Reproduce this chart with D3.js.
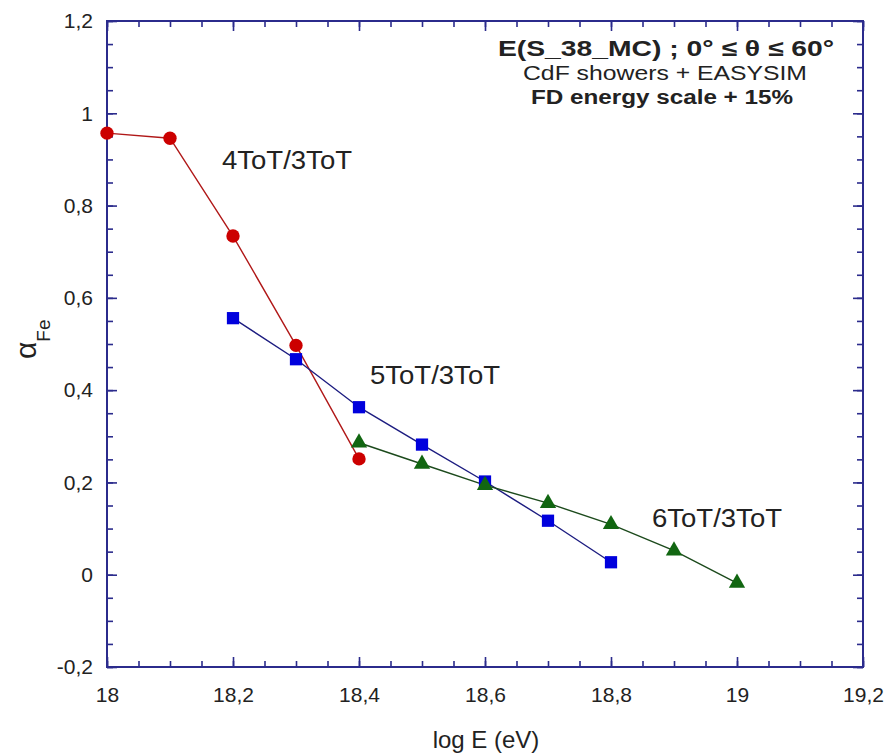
<!DOCTYPE html>
<html>
<head>
<meta charset="utf-8">
<script src="https://cdn.jsdelivr.net/npm/d3@7"></script>
<style>
  html, body { margin: 0; padding: 0; background: #ffffff; }
  svg { display: block; }
  text { font-family: "Liberation Sans", Arial, Helvetica, sans-serif; fill: #222; }
</style>
</head>
<body>
<svg id="chart" width="890" height="756"></svg>
<script>
// ---- data ----
const logE4 = [18.0, 18.1, 18.2, 18.3, 18.4];
const alpha4 = [0.957, 0.946, 0.734, 0.497, 0.251];

const logE5 = [18.2, 18.3, 18.4, 18.5, 18.6, 18.7, 18.8];
const alpha5 = [0.556, 0.467, 0.363, 0.282, 0.202, 0.117, 0.027];

const logE6 = [18.4, 18.5, 18.6, 18.7, 18.8, 18.9, 19.0];
const alpha6 = [0.286, 0.240, 0.194, 0.155, 0.109, 0.052, -0.018];

const seriesNames = ["4ToT/3ToT", "5ToT/3ToT", "6ToT/3ToT"];
const xTickValues = [18, 18.2, 18.4, 18.6, 18.8, 19, 19.2];
const yTickValues = [-0.2, 0, 0.2, 0.4, 0.6, 0.8, 1, 1.2];
const titleLines = ["E(S_38_MC) ; 0° ≤ θ ≤ 60°", "CdF showers + EASYSIM", "FD energy scale + 15%"];
const xTitle = "log E (eV)";

// ---- layout ----
const L = 107, R = 863, T = 21, B = 667;
const svg = d3.select("#chart");
const x = d3.scaleLinear().domain([18, 19.2]).range([L, R]);
const y = d3.scaleLinear().domain([-0.2, 1.2]).range([B, T]);

const loc = d3.formatLocale({decimal: ",", thousands: ".", grouping: [3], currency: ["", ""], minus: "-"});
const fmt = loc.format("~g");

const frameColor = "#2b2b8c";
const xMinor = d3.range(0, 25).map(i => 18 + i * 0.05);
const yMinor = d3.range(0, 29).map(i => -0.2 + i * 0.05);

function styleAxis(g, labels) {
  g.select(".domain").remove();
  g.selectAll(".tick line").attr("stroke", frameColor).attr("stroke-width", 1.6);
  g.selectAll(".tick text").style("font-size", labels ? "21px" : "0px").attr("fill", "#222");
}

// minor ticks
svg.append("g").attr("transform", `translate(0,${B})`)
  .call(d3.axisBottom(x).tickValues(xMinor).tickSize(-6).tickFormat(""))
  .call(g => styleAxis(g, false));
svg.append("g").attr("transform", `translate(0,${T})`)
  .call(d3.axisTop(x).tickValues(xMinor).tickSize(-6).tickFormat(""))
  .call(g => styleAxis(g, false));
svg.append("g").attr("transform", `translate(${L},0)`)
  .call(d3.axisLeft(y).tickValues(yMinor).tickSize(-6).tickFormat(""))
  .call(g => styleAxis(g, false));
svg.append("g").attr("transform", `translate(${R},0)`)
  .call(d3.axisRight(y).tickValues(yMinor).tickSize(-6).tickFormat(""))
  .call(g => styleAxis(g, false));

// major ticks
svg.append("g").attr("transform", `translate(0,${B})`)
  .call(d3.axisBottom(x).tickValues(xTickValues).tickSize(-10).tickPadding(20).tickFormat(fmt))
  .call(g => styleAxis(g, true));
svg.append("g").attr("transform", `translate(0,${T})`)
  .call(d3.axisTop(x).tickValues(xTickValues).tickSize(-10).tickFormat(""))
  .call(g => styleAxis(g, false));
svg.append("g").attr("transform", `translate(${L},0)`)
  .call(d3.axisLeft(y).tickValues(yTickValues).tickSize(-10).tickPadding(14).tickFormat(fmt))
  .call(g => styleAxis(g, true));
svg.append("g").attr("transform", `translate(${R},0)`)
  .call(d3.axisRight(y).tickValues(yTickValues).tickSize(-10).tickFormat(""))
  .call(g => styleAxis(g, false));

// frame
svg.append("rect").attr("x", L).attr("y", T).attr("width", R - L).attr("height", B - T)
  .attr("fill", "none").attr("stroke", frameColor).attr("stroke-width", 2);

// series
const series = [
  {xs: logE4, ys: alpha4, line: "#b01818", fill: "#cc0000", shape: d3.symbolCircle, size: 140},
  {xs: logE5, ys: alpha5, line: "#1c1c80", fill: "#0000dd", shape: d3.symbolSquare, size: 150},
  {xs: logE6, ys: alpha6, line: "#1c4a1c", fill: "#116611", shape: d3.symbolTriangle, size: 115}
];
const lineGen = d3.line().x(d => x(d[0])).y(d => y(d[1]));
series.forEach(s => {
  const pts = s.xs.map((v, i) => [v, s.ys[i]]);
  svg.append("path").datum(pts).attr("d", lineGen)
    .attr("fill", "none").attr("stroke", s.line).attr("stroke-width", 1.4);
});
series.forEach(s => {
  const pts = s.xs.map((v, i) => [v, s.ys[i]]);
  svg.append("g").selectAll("path").data(pts).join("path")
    .attr("transform", d => `translate(${x(d[0])},${y(d[1])})`)
    .attr("d", d3.symbol().type(s.shape).size(s.size))
    .attr("fill", s.fill);
});

// series labels
const labelPos = [[222, 169], [370, 384], [652, 527]];
seriesNames.forEach((n, i) => {
  svg.append("text").attr("x", labelPos[i][0]).attr("y", labelPos[i][1])
    .style("font-size", "25px").attr("fill", "#222")
    .attr("textLength", 130).attr("lengthAdjust", "spacingAndGlyphs").text(n);
});

// title block
svg.append("text").attr("x", 498).attr("y", 56)
  .style("font-size", "22px").style("font-weight", "bold")
  .attr("textLength", 336).attr("lengthAdjust", "spacingAndGlyphs").text(titleLines[0]);
svg.append("text").attr("x", 523).attr("y", 80)
  .style("font-size", "20px")
  .attr("textLength", 284).attr("lengthAdjust", "spacingAndGlyphs").text(titleLines[1]);
svg.append("text").attr("x", 531).attr("y", 104)
  .style("font-size", "20px").style("font-weight", "bold")
  .attr("textLength", 262).attr("lengthAdjust", "spacingAndGlyphs").text(titleLines[2]);

// axis titles
svg.append("text").attr("x", 486).attr("y", 748).attr("text-anchor", "middle")
  .style("font-size", "24px").text(xTitle);
const yl = svg.append("text").attr("transform", "translate(36,359) rotate(-90)");
yl.append("tspan").style("font-size", "30px").text("α");
yl.append("tspan").attr("dy", 14).style("font-size", "19px").text("Fe");
</script>
</body>
</html>
